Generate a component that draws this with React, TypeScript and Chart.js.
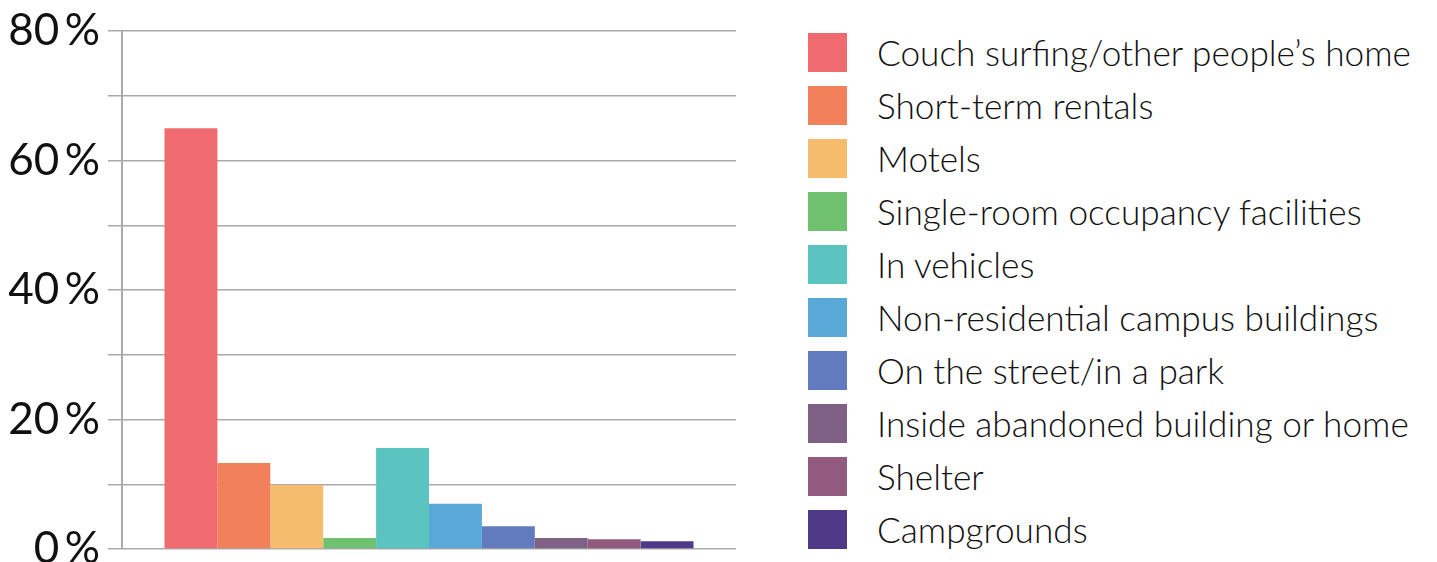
import React, { useEffect, useRef } from "react";
import { Chart, registerables } from "chart.js";

Chart.register(...registerables);

const categories = [
  "Couch surfing/other people\u2019s home",
  "Short-term rentals",
  "Motels",
  "Single-room occupancy facilities",
  "In vehicles",
  "Non-residential campus buildings",
  "On the street/in a park",
  "Inside abandoned building or home",
  "Shelter",
  "Campgrounds",
];

const values = [65, 13.3, 9.9, 1.7, 15.6, 7, 3.5, 1.7, 1.5, 1.2];

const colors = [
  "#F06B6F",
  "#F2805A",
  "#F6BC6E",
  "#70C16F",
  "#5BC4C1",
  "#5AA8D8",
  "#617BBE",
  "#7F6186",
  "#935A80",
  "#4F3A87",
];

const yTickLabels = ["0\u2009%", "20\u2009%", "40\u2009%", "60\u2009%", "80\u2009%"];

const FONT = "Lato, 'Open Sans', sans-serif";

export default function App() {
  const ref = useRef<HTMLCanvasElement | null>(null);

  useEffect(() => {
    if (!ref.current) return;
    const chart = new Chart(ref.current, {
      type: "bar",
      data: {
        labels: [""],
        datasets: categories.map((c, i) => ({
          label: c,
          data: [values[i]],
          backgroundColor: colors[i],
          borderWidth: 0,
          categoryPercentage: 0.8616,
          barPercentage: 1,
        })),
      },
      options: {
        animation: false,
        responsive: false,
        maintainAspectRatio: false,
        layout: { padding: { top: 31, bottom: 35, left: 0, right: 4 } },
        plugins: { legend: { display: false }, tooltip: { enabled: false } },
        scales: {
          x: { display: false },
          y: {
            min: 0,
            max: 80,
            ticks: {
              stepSize: 10,
              padding: 8,
              color: "#111",
              font: { family: FONT, size: 44, weight: "400", lineHeight: 1 },
              callback: (v: any) => (Number(v) % 20 === 0 ? yTickLabels[Number(v) / 20] : ""),
            },
            grid: { color: "#aaaaaa", lineWidth: 1.5, tickLength: 14 },
            border: { color: "#aaaaaa", width: 2 },
            afterFit: (scale: any) => {
              scale.width = 122;
            },
          },
        },
      },
    });
    return () => chart.destroy();
  }, []);

  return (
    <div style={{ position: "fixed", left: 0, top: 0, width: 1437, height: 562, background: "#fff", overflow: "hidden" }}>
      <canvas ref={ref} width={740} height={584} style={{ position: "absolute", left: 0, top: 0, width: 740, height: 584 }} />
      <div style={{ position: "absolute", left: 808, top: 33 }}>
        {categories.map((c, i) => (
          <div key={c} style={{ position: "absolute", left: 0, top: i * 53, height: 39, display: "flex", alignItems: "center", whiteSpace: "nowrap" }}>
            <div style={{ width: 39, height: 39, background: colors[i], flex: "0 0 39px" }} />
            <span style={{ marginLeft: 30, fontFamily: FONT, fontSize: 35.2, fontWeight: 300, color: "#111", lineHeight: "39px" }}>{c}</span>
          </div>
        ))}
      </div>
    </div>
  );
}
